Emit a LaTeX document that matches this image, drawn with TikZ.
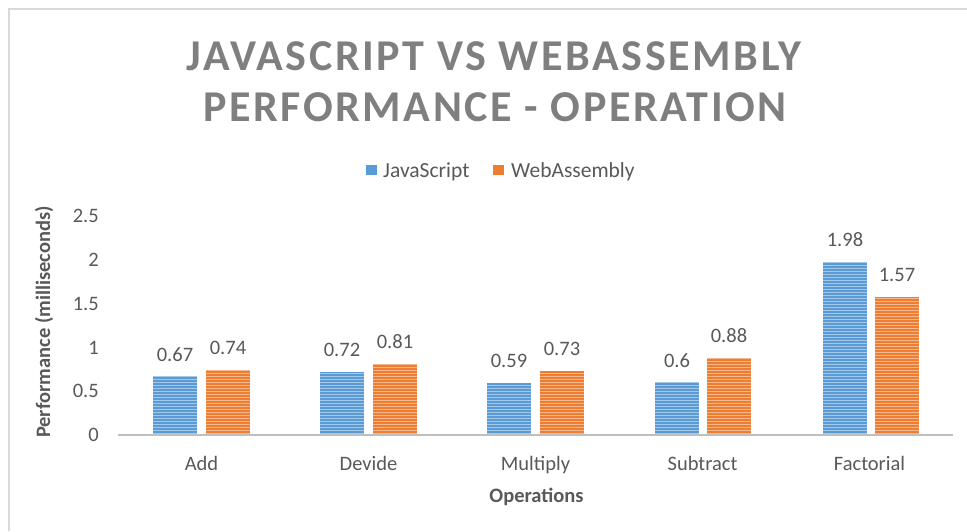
\documentclass[tikz,border=0pt]{standalone}
\usepackage{fontspec}
\setmainfont{Carlito}
\definecolor{jsblue}{HTML}{5B9BD5}
\definecolor{waorange}{HTML}{ED7D31}
\definecolor{txt}{HTML}{595959}
\definecolor{ttl}{HTML}{7F7F7F}
\definecolor{axisgray}{HTML}{BFBFBF}
\definecolor{framegray}{HTML}{D9D9D9}
\newcommand\chartbar[3]{%
  \begin{scope}
    \clip (#1-22,435) rectangle (#1+22,{435-#2*87.6});
    \fill[#3] (#1-22,435) rectangle (#1+22,{435-#2*87.6});
    \foreach \yy in {1.5,4.5,...,180} {\draw[white,opacity=0.45,line width=1pt] (#1-23,435-\yy) -- (#1+23,435-\yy);}
  \end{scope}}
\begin{document}
\begin{tikzpicture}[x=1pt,y=-1pt,
  titlestyle/.style={inner sep=0pt,text=ttl,font=\fontsize{44}{52}\selectfont\bfseries\addfontfeatures{LetterSpace=6}},
  lbl/.style={inner sep=0pt,text=txt,font=\fontsize{20.5}{24}\selectfont},
  legendtxt/.style={inner sep=0pt,text=txt,font=\fontsize{21.5}{24}\selectfont},
  boldlbl/.style={inner sep=0pt,text=txt,font=\fontsize{20.5}{24}\selectfont\bfseries}]
\useasboundingbox (0,0) rectangle (967,531);
\fill[white] (0,0) rectangle (967,531);
\draw[framegray,line width=2pt] (9,531) -- (9,9) -- (967,9);
% title
\node[titlestyle,anchor=base] (t1) at (494,70) {JAVASCRIPT VS WEBASSEMBLY};
\node[titlestyle,anchor=base] (t2) at (495,121) {PERFORMANCE - OPERATION};
% legend
\fill[jsblue] (366,165) rectangle (377,175);
\node[legendtxt,anchor=base west] (ljs) at (383,177) {JavaScript};
\fill[waorange] (493,165) rectangle (504,175);
\node[legendtxt,anchor=base west] (lwa) at (511,177) {WebAssembly};
% y axis ticks
\foreach \v/\t in {0/0,0.5/0.5,1/1,1.5/1.5,2/2,2.5/2.5}
  \node[lbl,anchor=east] (tick\t) at (99,{435-\v*87.6}) {\t};
\node[boldlbl,anchor=base,rotate=90] (ytitle) at (50,322) {Performance (milliseconds)};
% bars
\chartbar{175}{0.67}{jsblue}
\chartbar{228}{0.74}{waorange}
\chartbar{342}{0.72}{jsblue}
\chartbar{395}{0.81}{waorange}
\chartbar{509}{0.59}{jsblue}
\chartbar{562}{0.73}{waorange}
\chartbar{677}{0.6}{jsblue}
\chartbar{729}{0.88}{waorange}
\chartbar{845}{1.98}{jsblue}
\chartbar{897}{1.57}{waorange}
% axis line
\draw[axisgray,line width=2pt] (118,435) -- (953,435);
% value labels
\foreach \x/\v/\n in {175/0.67/a1,228/0.74/a2,342/0.72/b1,395/0.81/b2,509/0.59/c1,562/0.73/c2,677/0.6/d1,729/0.88/d2,845/1.98/e1,897/1.57/e2}
  \node[lbl] (val\n) at (\x,{435-\v*87.6-22}) {\v};
% categories
\node[lbl,anchor=base] (cadd) at (201.5,470) {Add};
\node[lbl,anchor=base] (cdev) at (368.5,470) {Devide};
\node[lbl,anchor=base] (cmul) at (535.5,470) {Multiply};
\node[lbl,anchor=base] (csub) at (702.5,470) {Subtract};
\node[lbl,anchor=base] (cfac) at (869.5,470) {Factorial};
\node[boldlbl,anchor=base] (xtitle) at (536.5,502) {Operations};
\end{tikzpicture}
\end{document}
